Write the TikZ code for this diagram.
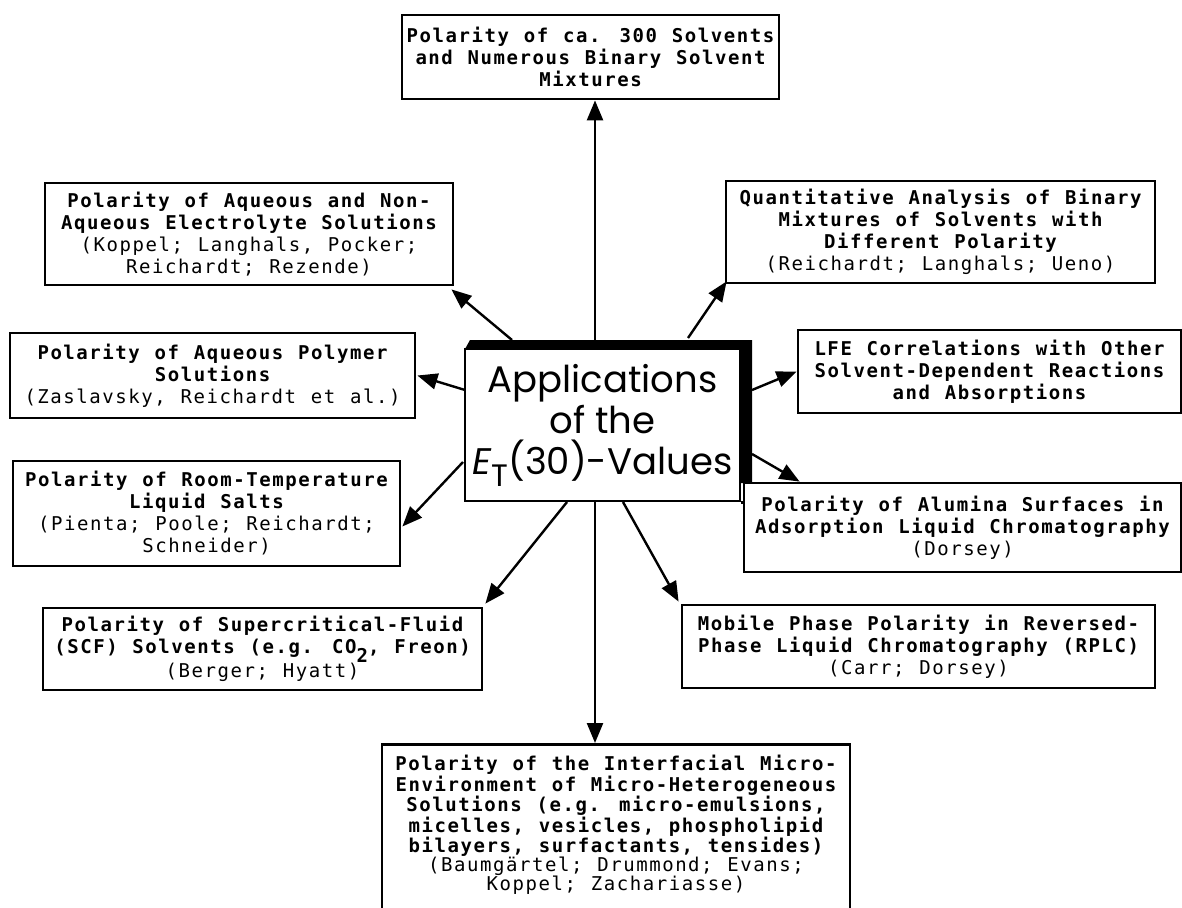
\documentclass[tikz,border=0pt]{standalone}
\usepackage{fontspec}
\usetikzlibrary{arrows.meta,calc}
\newfontfamily\boxmono{DejaVu Sans Mono}[LetterSpace=8.2,WordSpace=1.136]
\newfontfamily\ctrfont{Poppins}
\newcommand{\au}[1]{{\mdseries #1}}
\tikzset{
  appbox/.style={draw, line width=2.8pt, fill=white, align=center, inner sep=4pt,
    font=\boxmono\bfseries\fontsize{19}{22}\selectfont},
  ctrbox/.style={draw, line width=2.8pt, fill=white, align=center, inner sep=4pt,
    font=\ctrfont\fontsize{37}{41}\selectfont},
  arr/.style={line width=2.4pt, -{Triangle[length=20pt,width=16pt]}}
}
\begin{document}
\begin{tikzpicture}[x=1pt,y=-1pt]
\useasboundingbox (0,0) rectangle (1182,907);
% shadow of the centre box
\fill (470,340) -- (752,340) -- (752,483) -- (740,483) -- (740,349) -- (465,349) -- cycle;
\node[ctrbox, minimum width=275pt, minimum height=152pt] (ctr) at (602.5,425)
  {Applications\\of the\\{\itshape E}\raisebox{-12pt}{\fontsize{31}{31}\selectfont T}(30)-Values};
\node[appbox, minimum width=437pt, minimum height=89pt] (alum) at (962.5,527.5)
  {Polarity of Alumina Surfaces in\\Adsorption Liquid Chromatography\\\au{(Dorsey)}};
\draw[line width=2.8pt] (ctr.south east) -- (alum.west |- ctr.south east);
\node[appbox, minimum width=377pt, minimum height=84pt] (top) at (590.5,57)
  {Polarity of ca. 300 Solvents\\and Numerous Binary Solvent\\Mixtures};
\node[appbox, minimum width=408pt, minimum height=102pt] (elec) at (249,234)
  {Polarity of Aqueous and Non-\\Aqueous Electrolyte Solutions\\\au{(Koppel; Langhals, Pocker;}\\\au{Reichardt; Rezende)}};
\node[appbox, minimum width=405pt, minimum height=85pt] (poly) at (212.5,375.5)
  {Polarity of Aqueous Polymer\\Solutions\\\au{(Zaslavsky, Reichardt et al.)}};
\node[appbox, minimum width=387pt, minimum height=105pt] (room) at (206.5,513.5)
  {Polarity of Room-Temperature\\Liquid Salts\\\au{(Pienta; Poole; Reichardt;}\\\au{Schneider)}};
\node[appbox, minimum width=439pt, minimum height=82pt] (scf) at (262.5,649)
  {Polarity of Supercritical-Fluid\\(SCF) Solvents (e.g. CO\raisebox{-9pt}{2}, Freon)\\\au{(Berger; Hyatt)}};
\node[appbox, minimum width=429pt, minimum height=102pt] (quant) at (940.5,232)
  {Quantitative Analysis of Binary\\Mixtures of Solvents with\\Different Polarity\\\au{(Reichardt; Langhals; Ueno)}};
\node[appbox, minimum width=383pt, minimum height=83pt] (lfe) at (989.5,371.5)
  {LFE Correlations with Other\\Solvent-Dependent Reactions\\and Absorptions};
\node[appbox, minimum width=473pt, minimum height=83pt] (mob) at (918.5,646.5)
  {Mobile Phase Polarity in Reversed-\\Phase Liquid Chromatography (RPLC)\\\au{(Carr; Dorsey)}};
\node[appbox, anchor=north, minimum width=468pt, inner ysep=11pt, text depth=20pt,
  font=\boxmono\bfseries\fontsize{19}{19.2}\selectfont] (bot) at (616,743)
  {Polarity of the Interfacial Micro-\\Environment of Micro-Heterogeneous\\Solutions (e.g. micro-emulsions,\\micelles, vesicles, phospholipid\\bilayers, surfactants, tensides)\\\au{(Baumgärtel; Drummond; Evans;}\\\au{Koppel; Zachariasse)}};
% connector start points on the centre box
\coordinate (s1) at (595,340);
\coordinate (s2) at (512,340);
\coordinate (s3) at (465,390);
\coordinate (s4) at (463,462);
\coordinate (s5) at (567,502);
\coordinate (s6) at (595,502);
\coordinate (s7) at (623,502);
\coordinate (s8) at (752,454);
\coordinate (s9) at (752,390);
\coordinate (s10) at (688,338);
\draw[arr] (s1) -- (top.south -| s1);
\draw[arr] (s2) -- ([xshift=-3pt,yshift=-3pt]elec.south east);
\draw[arr] (s3) -- ([xshift=1pt]poly.east);
\draw[arr] (s4) -- ([xshift=1pt,yshift=-13pt]room.east);
\draw[arr] (s5) -- ([xshift=2pt,yshift=3pt]scf.north east);
\draw[arr] (s6) -- (bot.north -| s6);
\draw[arr] (s7) -- ([xshift=-2pt,yshift=2pt]mob.north west);
\draw[arr] (s8) -- ([xshift=57pt]alum.north west);
\draw[arr] (s9) -- (lfe.west);
\draw[arr] (s10) -- ([xshift=2pt,yshift=3pt]quant.south west);
\end{tikzpicture}
\end{document}
